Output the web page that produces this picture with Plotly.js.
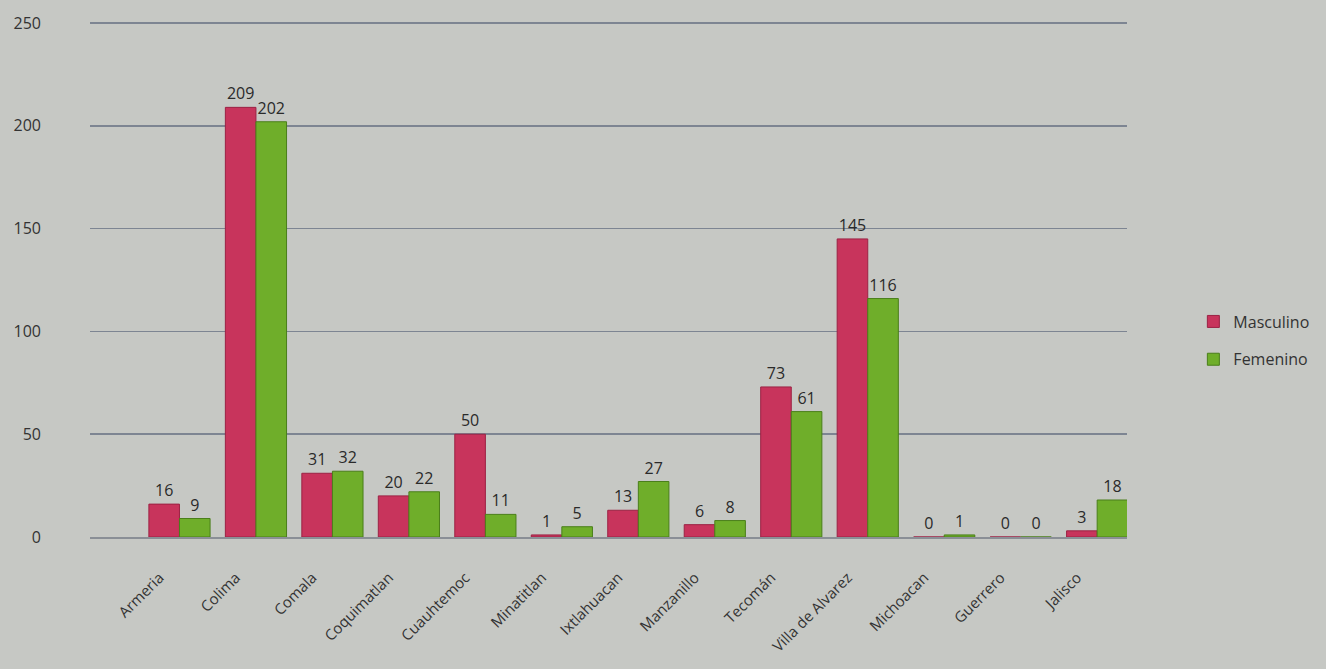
<!DOCTYPE html>
<html>
<head>
<meta charset="utf-8">
<script src="https://cdn.plot.ly/plotly-3.0.1.min.js"></script>
<style>html,body{margin:0;padding:0;background:#c6c8c4;}#chart{width:1326px;height:669px;}</style>
</head>
<body>
<div id="chart"></div>
<script>
const categories = ["Armeria","Colima","Comala","Coquimatlan","Cuauhtemoc","Minatitlan","Ixtlahuacan","Manzanillo","Tecomán","Villa de Alvarez","Michoacan","Guerrero","Jalisco"];
const masculino = [16,209,31,20,50,1,13,6,73,145,0,0,3];
const femenino  = [9,202,32,22,11,5,27,8,61,116,1,0,18];
const yTicks = [0,50,100,150,200,250];

const font = "Open Sans, Liberation Sans, sans-serif";
const traces = [
  {type:"bar", name:"Masculino", legendgroup:"m", x:categories, y:masculino, text:masculino.map(String),
   textposition:"outside", cliponaxis:false,
   textfont:{family:font,size:16,color:"#2a2a2a"},
   marker:{color:"#c8345c", line:{color:"#9c2244", width:1}}},
  {type:"bar", name:"Femenino", legendgroup:"f", x:categories, y:femenino, text:femenino.map(String),
   textposition:"outside", cliponaxis:false,
   textfont:{family:font,size:16,color:"#2a2a2a"},
   marker:{color:"#6fae2a", line:{color:"#4a7f1a", width:1}}}
];
const layout = {
  width:1326, height:669,
  paper_bgcolor:"#c6c8c4", plot_bgcolor:"#c6c8c4",
  margin:{l:90, r:196, t:20, b:132},
  barmode:"group", bargap:0.2, bargroupgap:0,
  font:{family:font, color:"#333"},
  xaxis:{type:"category", range:[-1.17,12.39], tickangle:-45,
         tickfont:{size:15,color:"#333"}, showgrid:false, zeroline:false,
         showline:true, linecolor:"#8a8f96", linewidth:2, ticks:"",
         ticklabelstandoff:24, ticklabelshift:-20},
  yaxis:{range:[0,251.5], tickvals:yTicks, ticktext:yTicks.map(String),
         tickfont:{size:16,color:"#333"}, showgrid:true, gridcolor:"#7d8592",
         gridwidth:1.5, zeroline:false, showline:false, ticklabelstandoff:48},
  legend:{x:1.064, y:0.38, yanchor:"middle", xanchor:"left",
          font:{size:16,color:"#333"}, bgcolor:"rgba(0,0,0,0)",
          tracegroupgap:14, itemwidth:30},
  showlegend:true
};
Plotly.newPlot("chart", traces, layout, {displayModeBar:false, staticPlot:true});
</script>
</body>
</html>
